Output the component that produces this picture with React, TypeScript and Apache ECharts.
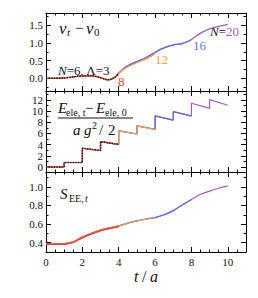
import React, { useEffect, useRef } from "react";
import * as echarts from "echarts";

// ---- data ----
const tNu = [0, 0.5, 1, 1.5, 2, 2.5, 3, 3.25, 3.5, 3.75, 4, 4.25, 4.5, 5, 5.5, 6, 6.5, 7, 7.5, 8, 8.5, 9, 9.5, 10];
const nu20 = [0, 0, 0.01, 0.04, 0.07, 0.07, 0.02, -0.03, -0.04, 0.02, 0.15, 0.27, 0.36, 0.48, 0.59, 0.74, 0.87, 0.95, 0.99, 1.1, 1.28, 1.4, 1.47, 1.53];
const nu16 = [0, 0, 0.01, 0.04, 0.07, 0.07, 0.02, -0.03, -0.04, 0.02, 0.14, 0.26, 0.35, 0.47, 0.58, 0.73, 0.86, 0.94, 0.98, 1.09];
const nu12 = [0, 0, 0.01, 0.04, 0.07, 0.07, 0.02, -0.03, -0.04, 0.02, 0.13, 0.24, 0.32, 0.44, 0.55, 0.69];
const nu8 = [0, 0, 0.01, 0.04, 0.07, 0.07, 0.02, -0.03, -0.04, 0.01, 0.11];
const nu6 = [0, 0, 0.01, 0.04, 0.07, 0.07, 0.02, -0.03, -0.04, 0.02, 0.13];

const tEle = [0, 1, 1, 2, 2, 3, 3, 4, 4, 5, 5, 6, 6, 7, 7, 8, 8, 9, 9, 10];
const ele20 = [0, 0, 0.8, 0.8, 3.35, 2.95, 4.55, 4.05, 6.45, 5.9, 7.35, 6.75, 9.15, 8.4, 9.9, 9.15, 11.4, 10.5, 12.05, 11.05];
const ele16 = [0, 0, 0.8, 0.8, 3.35, 2.95, 4.55, 4.05, 6.45, 5.9, 7.35, 6.75, 9.15, 8.4, 9.9, 9.1];
const ele12 = [0, 0, 0.8, 0.8, 3.35, 2.95, 4.55, 4.05, 6.45, 5.9, 7.35, 6.7];
const ele8 = [0, 0, 0.8, 0.8, 3.35, 2.95, 4.55, 4.0];
const ele6 = [0, 0, 0.8, 0.8, 3.35, 2.95, 4.55, 4.05];

const tS = [0, 0.5, 1, 1.5, 2, 2.5, 3, 3.5, 4, 4.5, 5, 5.5, 6, 6.5, 7, 7.5, 8, 8.5, 9, 9.5, 10];
const s20 = [0.39, 0.39, 0.39, 0.41, 0.46, 0.5, 0.535, 0.56, 0.58, 0.61, 0.635, 0.655, 0.67, 0.7, 0.745, 0.805, 0.865, 0.92, 0.955, 0.985, 1.01];
const s16 = [0.39, 0.39, 0.39, 0.41, 0.46, 0.5, 0.535, 0.56, 0.58, 0.61, 0.635, 0.655, 0.67, 0.7, 0.745, 0.805, 0.865];
const s12 = [0.39, 0.39, 0.39, 0.41, 0.46, 0.5, 0.535, 0.56, 0.58, 0.61, 0.633, 0.652, 0.668];
const s8 = [0.385, 0.385, 0.385, 0.405, 0.455, 0.495, 0.53, 0.553, 0.572];

const xMajor = [0, 2, 4, 6, 8, 10];
const xMinor = [0.5, 1, 1.5, 2.5, 3, 3.5, 4.5, 5, 5.5, 6.5, 7, 7.5, 8.5, 9, 9.5, 10.5];
const y0Major = [0, 0.5, 1, 1.5];
const y0Minor = [-0.25, 0.25, 0.75, 1.25, 1.75];
const y1Major = [0, 2, 4, 6, 8, 10, 12];
const y1Minor = [1, 3, 5, 7, 9, 11, 13];
const y2Major = [0.4, 0.6, 0.8, 1.0];
const y2Minor = [0.5, 0.7, 0.9, 1.1];

const COLORS = { n20: "#a858c4", n16: "#5a72e0", n12: "#f0a048", n8: "#e8463c", n6: "#111111" };
const FONT = "Liberation Serif";

const zip = (t: number[], v: number[]) => v.map((y, i) => [t[i], y]);

const GRIDS = [
  { left: 46, top: 13, width: 200, height: 78 },
  { left: 46, top: 91, width: 200, height: 81 },
  { left: 46, top: 172, width: 200, height: 80 },
];

const lineC = { color: "#000", width: 1 };

function xAxes(g: number, labels: boolean) {
  const c = { type: "value", gridIndex: g, min: 0, max: 11, splitLine: { show: false } };
  const major = (pos: string, lab: boolean) => ({
    ...c,
    position: pos,
    axisLine: { show: true, onZero: false, lineStyle: lineC },
    axisTick: { show: true, inside: true, length: 5, customValues: xMajor, lineStyle: lineC },
    axisLabel: {
      show: lab,
      customValues: xMajor,
      margin: 4,
      color: "#111",
      fontFamily: FONT,
      fontSize: 11,
    },
  });
  const minor = (pos: string) => ({
    ...c,
    position: pos,
    axisLine: { show: false, onZero: false },
    axisTick: { show: true, inside: true, length: 2.5, customValues: xMinor, lineStyle: lineC },
    axisLabel: { show: false },
  });
  return [major("bottom", labels), minor("bottom"), major("top", false), minor("top")];
}

function yAxes(g: number, min: number, max: number, maj: number[], mnr: number[], dec: number) {
  const c = { type: "value", gridIndex: g, min, max, splitLine: { show: false } };
  const major = (pos: string, lab: boolean) => ({
    ...c,
    position: pos,
    axisLine: { show: true, onZero: false, lineStyle: lineC },
    axisTick: { show: true, inside: true, length: 5, customValues: maj, lineStyle: lineC },
    axisLabel: {
      show: lab,
      customValues: maj,
      margin: 3,
      color: "#111",
      fontFamily: FONT,
      fontSize: 11,
      lineHeight: 10,
      hideOverlap: false,
      formatter: (v: number) => v.toFixed(dec),
    },
  });
  const minor = (pos: string) => ({
    ...c,
    position: pos,
    axisLine: { show: false, onZero: false },
    axisTick: { show: true, inside: true, length: 2.5, customValues: mnr, lineStyle: lineC },
    axisLabel: { show: false },
  });
  return [major("left", true), minor("left"), major("right", false), minor("right")];
}

function line(g: number, data: number[][], color: string, opts: any = {}) {
  return {
    type: "line",
    xAxisIndex: g * 4,
    yAxisIndex: g * 4,
    data,
    showSymbol: false,
    symbol: "none",
    smooth: opts.smooth ?? false,
    lineStyle: { color, width: opts.width ?? 1.2, type: opts.type ?? "solid" },
    silent: true,
  };
}

function txt(x: number, y: number, text: string, size: number, italic = false, fill = "#111") {
  return {
    type: "text",
    x,
    y,
    silent: true,
    style: {
      text,
      fill,
      fontFamily: FONT,
      fontSize: size,
      fontStyle: italic ? "italic" : "normal",
      align: "left",
      verticalAlign: "middle",
    },
  };
}

export default function App() {
  const ref = useRef<HTMLDivElement>(null);
  useEffect(() => {
    if (!ref.current) return;
    const chart = echarts.init(ref.current, null, { renderer: "svg" });
    const dotted = { type: [1.2, 1.4], width: 1.4 };
    chart.setOption({
      animation: false,
      backgroundColor: "#fff",
      grid: GRIDS,
      xAxis: [...xAxes(0, false), ...xAxes(1, false), ...xAxes(2, true)],
      yAxis: [
        ...yAxes(0, -0.36, 1.85, y0Major, y0Minor, 1),
        ...yAxes(1, -0.9, 13.6, y1Major, y1Minor, 0),
        ...yAxes(2, 0.3, 1.16, y2Major, y2Minor, 1),
      ],
      series: [
        line(0, zip(tNu, nu20), COLORS.n20, { smooth: 0.3 }),
        line(0, zip(tNu, nu16), COLORS.n16, { smooth: 0.3 }),
        line(0, zip(tNu, nu12), COLORS.n12, { smooth: 0.3 }),
        line(0, zip(tNu, nu8), COLORS.n8, { smooth: 0.3 }),
        line(0, zip(tNu, nu6), COLORS.n6, { smooth: 0.3, ...dotted }),
        line(1, zip(tEle, ele20), COLORS.n20),
        line(1, zip(tEle, ele16), COLORS.n16),
        line(1, zip(tEle, ele12), COLORS.n12),
        line(1, zip(tEle, ele8), COLORS.n8),
        line(1, zip(tEle, ele6), COLORS.n6, dotted),
        line(2, zip(tS, s20), COLORS.n20, { smooth: 0.3 }),
        line(2, zip(tS, s16), COLORS.n16, { smooth: 0.3 }),
        line(2, zip(tS, s12), COLORS.n12, { smooth: 0.3 }),
        line(2, zip(tS, s8), COLORS.n8, { smooth: 0.3, width: 1.8 }),
      ],
      graphic: [
        // top panel label: nu_t - nu_0
        txt(59, 28, "ν", 17, true),
        txt(67, 32, "t", 11, true),
        txt(75, 28, "−", 15),
        txt(86, 28, "ν", 17, true),
        txt(94, 32, "0", 11),
        {
          type: "text",
          x: 58,
          y: 70,
          silent: true,
          style: {
            text: "{i|N}{r|=6, Λ=3}",
            verticalAlign: "middle",
            rich: {
              i: { fontFamily: FONT, fontSize: 13, fontStyle: "italic", fill: "#111" },
              r: { fontFamily: FONT, fontSize: 13, fill: "#111" },
            },
          },
        },
        txt(118, 81, "8", 13, false, COLORS.n8),
        txt(155, 59, "12", 13, false, COLORS.n12),
        txt(193, 45, "16", 13, false, COLORS.n16),
        {
          type: "text",
          x: 210,
          y: 31,
          silent: true,
          style: {
            text: "{i|N}{r|=}{c|20}",
            verticalAlign: "middle",
            rich: {
              i: { fontFamily: FONT, fontSize: 13, fontStyle: "italic", fill: "#111" },
              r: { fontFamily: FONT, fontSize: 13, fill: "#111" },
              c: { fontFamily: FONT, fontSize: 13, fill: COLORS.n20 },
            },
          },
        },
        // middle panel fraction
        txt(58, 108, "E", 15, true),
        txt(66, 112, "ele, t", 10),
        txt(85, 108, "−", 15),
        txt(96, 108, "E", 15, true),
        txt(105, 112, "ele, 0", 10),
        { type: "line", silent: true, shape: { x1: 58, y1: 118, x2: 133, y2: 118 }, style: { stroke: "#111", lineWidth: 1 } },
        txt(73, 130, "a", 15, true),
        txt(84, 130, "g", 15, true),
        txt(92, 125, "2", 10),
        txt(99, 130, "/", 15),
        txt(108, 130, "2", 15),
        // bottom panel label
        txt(60, 194, "S", 15, true),
        txt(69, 198, "EE, ", 10),
        txt(85, 198, "t", 10, true),
        // x axis title
        txt(134, 276, "t", 16, true),
        txt(142, 276, "/", 16),
        txt(150, 276, "a", 16, true),
      ],
    });
    return () => chart.dispose();
  }, []);
  return <div ref={ref} style={{ position: "absolute", left: 0, top: 0, width: 258, height: 298 }} />;
}
